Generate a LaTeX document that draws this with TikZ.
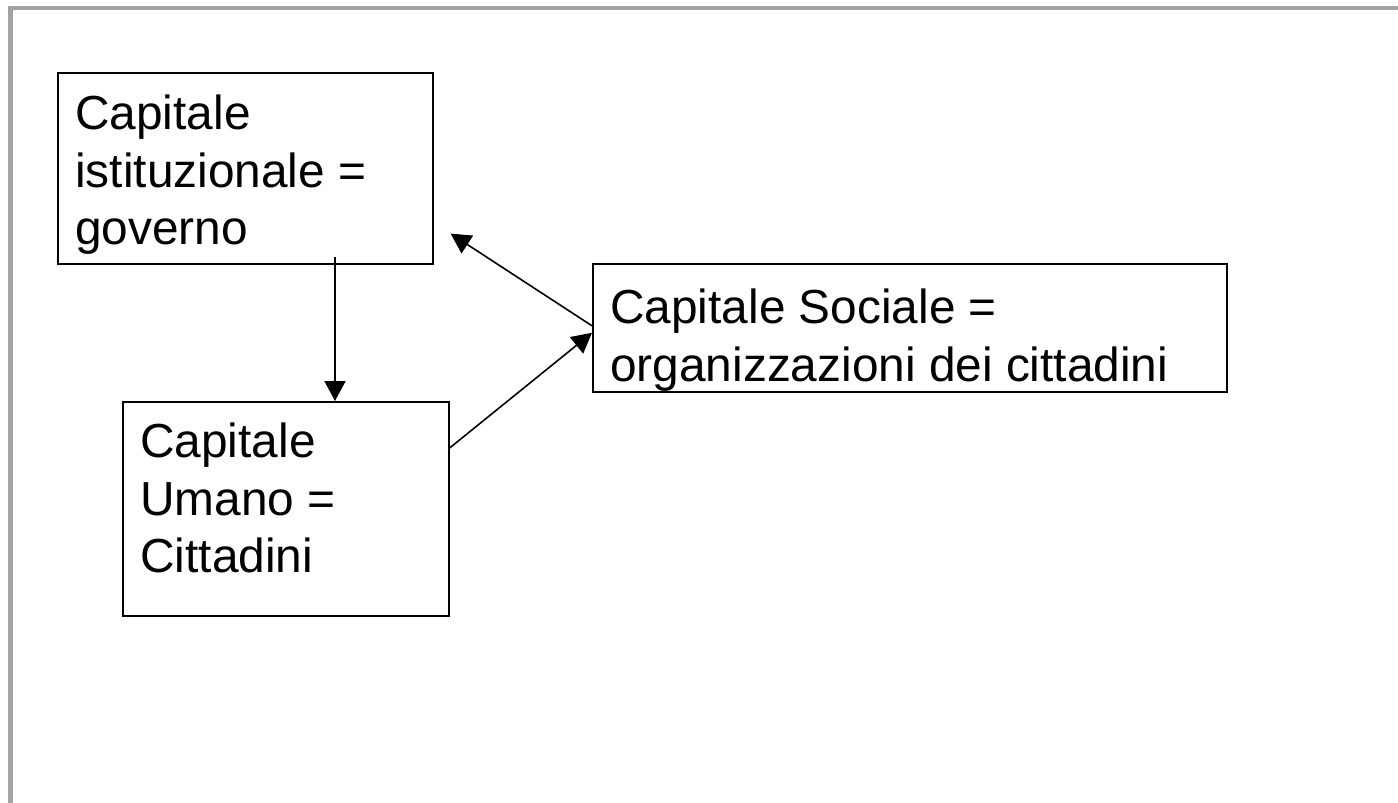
\documentclass[tikz,border=0pt]{standalone}
\usepackage{fontspec}
\setmainfont{Liberation Sans}
\usetikzlibrary{arrows.meta,calc}
% text block of a cell: width, height, height of the first line, lines
\newcommand\cellbody[4]{\parbox[c][#2][t]{#1}{\raggedright\fontsize{47.8pt}{57.5pt}\selectfont\rule{0pt}{#3}#4}}
\definecolor{framegray}{RGB}{163,163,163}
\begin{document}
\begin{tikzpicture}[x=1pt,y=-1pt,
  cell/.style={draw=black,line width=1.6pt,inner xsep=17.5pt,inner ysep=0pt,anchor=north west},
  arr/.style={line width=1.6pt,-{Triangle[length=20pt,width=21pt]}},
  frameline/.style={draw=framegray,line width=4.5pt}]
  \fill[white] (0,0) rectangle (1398,803);
  \useasboundingbox (0,0) rectangle (1398,803);
  % slide frame
  \draw[frameline] (10.5,803) -- (10.5,8) -- (1398,8);
  % the three forms of capital
  \node[cell] (gov) at (57,72) {\cellbody{340pt}{191pt}{57pt}{Capitale\\istituzionale =\\governo}};
  \node[cell] (hum) at (122,401) {\cellbody{291pt}{214pt}{56pt}{Capitale\\Umano =\\Cittadini}};
  \node[cell] (soc) at (592,263) {\cellbody{599pt}{128pt}{60pt}{Capitale Sociale =\\organizzazioni dei cittadini}};
  % links
  \coordinate (down) at ($(gov.south west)+(278,-8)$);
  \draw[arr] (down) -- (down |- hum.north);
  \draw[arr] ($(soc.west)+(0,-2)$) -- ($(gov.south east)+(17,-31)$);
  \draw[arr] ($(hum.north east)+(0,47)$) -- ($(soc.west)+(0,5)$);
\end{tikzpicture}
\end{document}
